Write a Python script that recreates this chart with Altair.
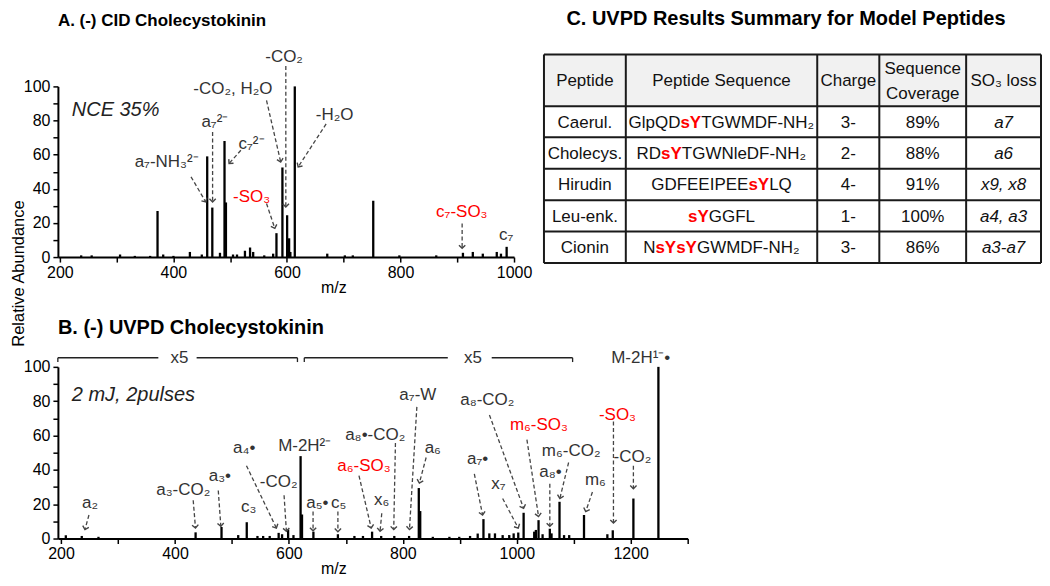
import math
import altair as alt
import pandas as pd

FONT = "Liberation Sans, Arial, Helvetica, sans-serif"
TITLE_FONT = "Liberation Sans, Arial, sans-serif"
INK = "#000000"
LABEL_GRAY = "#333333"
ARROW_GRAY = "#454545"
RED = "#ff0000"

# ---------------- Panel A: (-) CID Cholecystokinin ----------------
a_mz = [237.5, 256, 306, 332, 359, 372, 382, 400, 429, 450,
        459.5, 468.5, 482, 490, 492.5, 505, 512, 526, 535, 540.5,
        560, 575.7, 581.5, 592, 600.3, 603.8, 606, 613.8, 671, 702,
        716, 752, 798, 863, 910, 927.4, 945, 969.6, 977, 987]
a_int = [1, 1, 1.5, 0.7, 0.7, 27, 1.5, 0.7, 3, 1.5,
         59, 29, 2.5, 68, 32, 1.5, 1.5, 3.7, 5.6, 3,
         1, 2, 14, 52.5, 24.5, 11, 3, 100, 2, 1,
         1, 33, 1, 1, 2.5, 3, 2, 3, 2, 6]

a_lab_text = ["a₇-NH₃²⁻", "a₇²⁻", "c₇²⁻", "-SO₃", "-CO₂, H₂O", "-CO₂", "-H₂O", "c₇-SO₃", "c₇"]
a_lab_x = [388, 473, 537.6, 537.6, 504.7, 595, 684, 908, 986]
a_lab_y = [55.6, 79, 66.5, 35.3, 98.6, 117, 83, 26.5, 12.9]
a_lab_red = [0, 0, 0, 1, 0, 0, 0, 1, 0]

a_arr_x1 = [431, 469, 518.8, 564, 564, 598, 669, 908.6]
a_arr_y1 = [47, 73.3, 62.6, 31.4, 91.8, 112, 78, 19.7]
a_arr_x2 = [457, 469, 498, 578.6, 589, 598, 619.7, 908.6]
a_arr_y2 = [32.3, 32.3, 54.8, 16.8, 55.7, 29.4, 52.8, 5.1]

a_note = "NCE 35%"
a_note_x, a_note_y = 221, 86

# ---------------- Panel B: (-) UVPD Cholecystokinin ----------------
b_mz = [208.4, 236.4, 265.7, 436.2, 481.7, 511, 526, 544.8, 554.8, 566.3,
        582, 588, 598.6, 608, 620.5, 623, 643, 686, 715, 730,
        746, 762, 785, 811, 828, 830.5, 852.6, 881.7, 899, 918,
        931.4, 941.5, 951.8, 961.7, 975.2, 986.8, 994.5, 1002.6, 1012, 1030.6,
        1033.5, 1038.2, 1045.3, 1058, 1061, 1075, 1083, 1092, 1118, 1159,
        1168.5, 1204.7, 1248.6]
b_int = [1.9, 1.5, 1, 3.6, 6.7, 2, 9.5, 1.5, 1.5, 1.5,
         3.3, 2.5, 5.2, 2, 48, 14, 4, 2.5, 1.5, 1.5,
         4, 1.5, 1.5, 1.5, 29.4, 16, 1, 1, 1, 1.5,
         2.9, 11.3, 3, 3, 2, 2, 3, 3.5, 15, 4,
         5, 10.7, 2.5, 5.7, 3, 21.4, 2, 2, 13.7, 2.5,
         4.8, 23.3, 100]

b_lab_text = ["a₂", "a₃-CO₂", "a₃•", "c₃", "a₄•", "-CO₂", "M-2H²⁻", "a₅•", "c₅",
              "a₈•-CO₂", "a₆-SO₃", "x₆", "a₇-W", "a₆", "a₇•", "x₇", "a₈-CO₂",
              "m₆-SO₃", "m₆-CO₂", "a₈•", "m₆", "-SO₃", "-CO₂", "M-2H¹⁻•"]
b_lab_x = [251, 414.6, 478.8, 529.6, 521.5, 582, 627.7, 650, 687.3,
           751.5, 731.7, 763, 826.3, 852.6, 931.4, 967.6, 948.3,
           1038.8, 1095.5, 1059.3, 1138, 1176.7, 1203, 1217.6]
b_lab_y = [20.4, 28, 36.6, 18.5, 52.9, 32.8, 53.8, 20.4, 20.4,
           60.5, 42.4, 22.3, 83.4, 52.9, 46.2, 31.9, 80.5,
           66.2, 51, 38.6, 33.8, 72, 47.5, 105.3]
b_lab_red = [0, 0, 0, 0, 0, 0, 0, 0, 0,
             0, 1, 0, 0, 0, 0, 0, 0,
             1, 0, 0, 0, 1, 0, 0]

b_arr_x1 = [249, 432, 476, 525.5, 591.5, 642.4, 686, 787, 723, 763, 824.6,
            840.9, 925.5, 975.2, 952, 1017.8, 1091, 1058, 1132.8, 1169.7, 1204.7]
b_arr_y1 = [13.7, 22.3, 28, 42.4, 25.2, 15.7, 15.7, 55.7, 36.6, 14.7, 76.7,
            47.2, 37.6, 23.3, 72, 57.6, 44.3, 31.9, 27.1, 68.1, 42.4]
b_arr_x2 = [242, 436, 480.5, 578, 595.6, 642.4, 686, 784, 744.5, 760, 811.6,
            829, 940, 1002.6, 1012, 1038.2, 1075.6, 1058, 1121, 1169.7, 1204.7]
b_arr_y2 = [5.2, 6.1, 7.1, 6.1, 4.2, 4.5, 4, 5.2, 6.1, 4.2, 5.2,
            32.3, 13.7, 6.1, 17.6, 12.8, 23.3, 7.1, 15.7, 9, 29]

# "x5" zoom brackets
br_x1 = [194.4, 438, 627, 956]
br_x2 = [370.8, 615, 878.9, 1098]
br_level = 105.3
br_end_x = [194.4, 615, 627, 1098]
br_end_y = 102.8
x5_text = ["x5", "x5"]
x5_x = [408, 923]

b_note = "2 mJ, 2pulses"
b_note_x, b_note_y = 219, 83.4

# ---------------- Panel C: table ----------------
tbl_head = ["Peptide", "Peptide Sequence", "Charge", "Sequence\nCoverage", "SO₃ loss"]
tbl_peptide = ["Caerul.", "Cholecys.", "Hirudin", "Leu-enk.", "Cionin"]
tbl_seq = [["GlpQD", "sY", "TGWMDF-NH₂"],
           ["RD", "sY", "TGWNleDF-NH₂"],
           ["GDFEEIPEE", "sY", "LQ"],
           ["", "sY", "GGFL"],
           ["N", "sYsY", "GWMDF-NH₂"]]
tbl_charge = ["3-", "2-", "4-", "1-", "3-"]
tbl_cov = ["89%", "88%", "91%", "100%", "86%"]
tbl_loss = ["a7", "a6", "x9, x8", "a4, a3", "a3-a7"]

# ---------------- layout constants ----------------
A_DOM = [196.5, 1000]
B_DOM = [194.5, 1300]
A_W, A_H = 457, 171
B_W, B_H = 631, 172
T_W = 498
COL_EDGES = [0, 82, 273.8, 336, 423, 498]
ROW_EDGES = [0, 52, 83, 114.5, 146, 177.5, 209]
T_YDOM = [32, 203]
T_FS = 17
LAB_FS = 17
TICK_FS = 16


def axis_x(values, title):
    return alt.Axis(values=values, format="d",
                    labelExpr="datum.value % 200 == 0 ? datum.label : ''",
                    title=title, titleX=276, titleY=30, titleBaseline="middle",
                    titleAlign="center", titleFont=FONT, titleFontSize=16,
                    titleFontWeight="normal", titleColor=INK,
                    labelFont=FONT, labelFontSize=TICK_FS, labelColor=INK,
                    labelFlush=False, labelOverlap=False, labelPadding=2,
                    grid=False, domainColor=INK, domainWidth=2,
                    tickColor=INK, tickWidth=1.5, tickSize=5)


def axis_y(title):
    kw = dict(values=list(range(0, 101, 10)),
              labelExpr="datum.value % 20 == 0 ? datum.label : ''",
              labelFont=FONT, labelFontSize=TICK_FS, labelColor=INK,
              labelFlush=False, labelOverlap=False, labelPadding=3,
              grid=False, domainColor=INK, domainWidth=2,
              tickColor=INK, tickWidth=1.5, tickSize=5)
    if title:
        kw.update(title=title, titleX=-39, titleY=187, titleAngle=270,
                  titleAlign="center", titleBaseline="middle", titleFont=FONT,
                  titleFontSize=16.5, titleFontWeight="normal", titleColor=INK)
    else:
        kw.update(title=None)
    return alt.Axis(**kw)


def head_angle(x1, y1, x2, y2, sx, sy):
    dx = (x2 - x1) * sx
    dy = -(y2 - y1) * sy
    return math.degrees(math.atan2(-dx, dy)) % 360


def spectrum(mz, inten, labx, laby, labt, labred, ax1, ay1, ax2, ay2,
             note, nx, ny, dom, w, h, cell_w, xvals, ytitle, title_params,
             extra_layers=None):
    X = lambda f="x": alt.X(f"{f}:Q", scale=alt.Scale(domain=dom, range=[0, w],
                                                       nice=False, zero=False),
                             axis=axis_x(xvals, "m/z"))
    Y = lambda f="y": alt.Y(f"{f}:Q", scale=alt.Scale(domain=[0, 100], nice=False),
                             axis=axis_y(ytitle))
    peaks = pd.DataFrame({"x": mz, "y": [0] * len(mz), "y2": inten})
    labels = pd.DataFrame({"x": labx, "y": laby, "t": labt,
                           "c": [RED if r else LABEL_GRAY for r in labred]})
    sx = w / (dom[1] - dom[0])
    sy = h / 100.0
    arrows = pd.DataFrame({"x": ax1, "y": ay1, "x2": ax2, "y2": ay2})
    heads = pd.DataFrame({"x": ax2, "y": ay2,
                          "ang": [head_angle(a, b, c, d, sx, sy)
                                  for a, b, c, d in zip(ax1, ay1, ax2, ay2)]})
    notes = pd.DataFrame({"x": [nx], "y": [ny], "t": [note]})

    l_peaks = alt.Chart(peaks).mark_rule(color=INK, strokeWidth=2.3).encode(
        x=X(), y=Y(), y2="y2:Q")
    l_arrows = alt.Chart(arrows).mark_rule(color=ARROW_GRAY, strokeWidth=1.3,
                                           strokeDash=[4, 2.5]).encode(
        x=X(), y=Y(), x2="x2:Q", y2="y2:Q")
    l_heads = alt.Chart(heads).mark_point(shape="M -1 -1 L 0 0 L 1 -1", filled=False,
                                          color=ARROW_GRAY, strokeWidth=1.4,
                                          size=40, opacity=1).encode(
        x=X(), y=Y(), angle=alt.Angle("ang:Q", scale=None))
    l_labels = alt.Chart(labels).mark_text(font=FONT, fontSize=LAB_FS,
                                           baseline="middle", align="center").encode(
        x=X(), y=Y(), text="t:N", color=alt.Color("c:N", scale=None))
    l_note = alt.Chart(notes).mark_text(font=FONT, fontSize=20, fontStyle="italic",
                                        align="left", baseline="middle",
                                        color="#222222").encode(
        x=X(), y=Y(), text="t:N")
    layers = [l_peaks, l_arrows, l_heads, l_labels, l_note]
    if extra_layers:
        layers += [f(X, Y) for f in extra_layers]
    return alt.layer(*layers).properties(width=cell_w, height=h, title=title_params)


def bracket_layers():
    br = pd.DataFrame({"x": br_x1, "x2": br_x2, "y": [br_level] * len(br_x1)})
    ends = pd.DataFrame({"x": br_end_x, "y": [br_level] * len(br_end_x),
                         "y2": [br_end_y] * len(br_end_x)})
    x5 = pd.DataFrame({"x": x5_x, "y": [br_level] * len(x5_x), "t": x5_text})

    def f1(X, Y):
        return alt.Chart(br).mark_rule(color="#222222", strokeWidth=1.3).encode(
            x=X(), y=Y(), x2="x2:Q")

    def f2(X, Y):
        return alt.Chart(ends).mark_rule(color="#222222", strokeWidth=1.3).encode(
            x=X(), y=Y(), y2="y2:Q")

    def f3(X, Y):
        return alt.Chart(x5).mark_text(font=FONT, fontSize=LAB_FS, baseline="middle",
                                       color=LABEL_GRAY).encode(x=X(), y=Y(), text="t:N")
    return [f1, f2, f3]


title_a = alt.TitleParams("A. (-) CID Cholecystokinin", anchor="start", frame="group",
                          font=TITLE_FONT, fontSize=17, fontWeight="bold", color=INK,
                          baseline="alphabetic", offset=5)
title_b = alt.TitleParams("B. (-) UVPD Cholecystokinin", anchor="start", frame="group",
                          font=TITLE_FONT, fontSize=20, fontWeight="bold", color=INK,
                          baseline="alphabetic", offset=0, dy=5)
title_c = alt.TitleParams("C. UVPD Results Summary for Model Peptides", anchor="middle",
                          frame="group", font=TITLE_FONT, fontSize=20,
                          fontWeight="bold", color=INK, baseline="alphabetic",
                          offset=9, dx=-6.5)

chart_a = spectrum(a_mz, a_int, a_lab_x, a_lab_y, a_lab_text, a_lab_red,
                   a_arr_x1, a_arr_y1, a_arr_x2, a_arr_y2,
                   a_note, a_note_x, a_note_y, A_DOM, A_W, A_H, A_W,
                   list(range(200, 1001, 100)), "Relative Abundance", title_a)

# panel B's grid cell is as wide as panel A's; its x range runs past the cell
chart_b = spectrum(b_mz, b_int, b_lab_x, b_lab_y, b_lab_text, b_lab_red,
                   b_arr_x1, b_arr_y1, b_arr_x2, b_arr_y2,
                   b_note, b_note_x, b_note_y, B_DOM, B_W, B_H, A_W,
                   list(range(200, 1301, 100)), None, title_b,
                   extra_layers=bracket_layers())

# ---------------- table chart ----------------
W_REG = {" ": 278, "-": 333, ",": 278, ".": 278, "%": 889, "₂": 400,
         "A": 667, "B": 667, "C": 722, "D": 722, "E": 667, "F": 611, "G": 778,
         "H": 722, "I": 278, "L": 556, "M": 833, "N": 722, "P": 667, "Q": 778,
         "R": 722, "T": 611, "W": 944, "Y": 667, "e": 556, "l": 222, "p": 556,
         "s": 500}
W_BOLD = {"s": 556, "Y": 667}


def text_w(s, bold=False):
    tot = 0
    for ch in s:
        if bold and ch in W_BOLD:
            tot += W_BOLD[ch]
        else:
            tot += W_REG.get(ch, 556)
    return tot / 1000.0 * T_FS


col_c = [(COL_EDGES[i] + COL_EDGES[i + 1]) / 2 for i in range(5)]
row_c = [(ROW_EDGES[i] + ROW_EDGES[i + 1]) / 2 + 1 for i in range(6)]

TX = lambda f="x": alt.X(f"{f}:Q", scale=alt.Scale(domain=[0, T_W], nice=False, zero=False),
                          axis=None)
TY = lambda f="y": alt.Y(f"{f}:Q", scale=alt.Scale(domain=T_YDOM, nice=False, zero=False,
                                                    reverse=True), axis=None)

hdr_bg = pd.DataFrame({"x": [0], "x2": [T_W], "y": [ROW_EDGES[0]], "y2": [ROW_EDGES[1]]})
hlines = pd.DataFrame({"x": [0] * len(ROW_EDGES), "x2": [T_W] * len(ROW_EDGES),
                       "y": ROW_EDGES})
vlines = pd.DataFrame({"x": COL_EDGES, "y": [ROW_EDGES[0]] * len(COL_EDGES),
                       "y2": [ROW_EDGES[-1]] * len(COL_EDGES)})
head_rows = []
for ci, h in enumerate(tbl_head):
    lines = h.split("\n")
    n = len(lines)
    for li, line in enumerate(lines):
        head_rows.append({"x": col_c[ci], "y": row_c[0] + (li - (n - 1) / 2) * 24.5,
                          "t": line})
head_df = pd.DataFrame(head_rows)
plain_rows = []
for r in range(5):
    for ci, vals in ((0, tbl_peptide), (2, tbl_charge), (3, tbl_cov)):
        plain_rows.append({"x": col_c[ci], "y": row_c[r + 1], "t": vals[r]})
plain_df = pd.DataFrame(plain_rows)
loss_df = pd.DataFrame({"x": [col_c[4]] * 5, "y": row_c[1:], "t": tbl_loss})

seg_black, seg_red = [], []
for r, segs in enumerate(tbl_seq):
    widths = [text_w(s, bold=(i % 2 == 1)) for i, s in enumerate(segs)]
    start = col_c[1] - sum(widths) / 2
    for i, s in enumerate(segs):
        if s:
            (seg_red if i % 2 == 1 else seg_black).append(
                {"x": start, "y": row_c[r + 1], "t": s})
        start += widths[i]
seg_black_df = pd.DataFrame(seg_black)
seg_red_df = pd.DataFrame(seg_red)

t_bg = alt.Chart(hdr_bg).mark_rect(color="#f1f1f1").encode(
    x=TX(), x2="x2:Q", y=TY(), y2="y2:Q")
t_h = alt.Chart(hlines).mark_rule(color="#1a1a1a", strokeWidth=2).encode(
    x=TX(), x2="x2:Q", y=TY())
t_v = alt.Chart(vlines).mark_rule(color="#1a1a1a", strokeWidth=2).encode(
    x=TX(), y=TY(), y2="y2:Q")
t_head = alt.Chart(head_df).mark_text(font=FONT, fontSize=T_FS, color="#111111",
                                      baseline="middle").encode(x=TX(), y=TY(), text="t:N")
t_plain = alt.Chart(plain_df).mark_text(font=FONT, fontSize=T_FS, color="#111111",
                                        baseline="middle").encode(x=TX(), y=TY(), text="t:N")
t_loss = alt.Chart(loss_df).mark_text(font=FONT, fontSize=T_FS, color="#111111",
                                      fontStyle="italic", baseline="middle").encode(
    x=TX(), y=TY(), text="t:N")
t_seq_k = alt.Chart(seg_black_df).mark_text(font=FONT, fontSize=T_FS, align="left",
                                            baseline="middle", color="#111111").encode(
    x=TX(), y=TY(), text="t:N")
t_seq_r = alt.Chart(seg_red_df).mark_text(font=FONT, fontSize=T_FS, align="left",
                                          baseline="middle", color=RED,
                                          fontWeight="bold").encode(
    x=TX(), y=TY(), text="t:N")

chart_c = alt.layer(t_bg, t_h, t_v, t_head, t_plain, t_loss, t_seq_k, t_seq_r).properties(
    width=T_W, height=A_H, title=title_c)

chart = alt.concat(chart_a, chart_c, chart_b, columns=2,
                   spacing={"row": 110, "column": 30},
                   align="none", bounds="flush").properties(
    padding={"left": 3, "top": 0, "right": 0, "bottom": 0}, background="white"
).configure_view(stroke=None)

chart.save("out.html", embed_options={"renderer": "svg", "actions": False})
